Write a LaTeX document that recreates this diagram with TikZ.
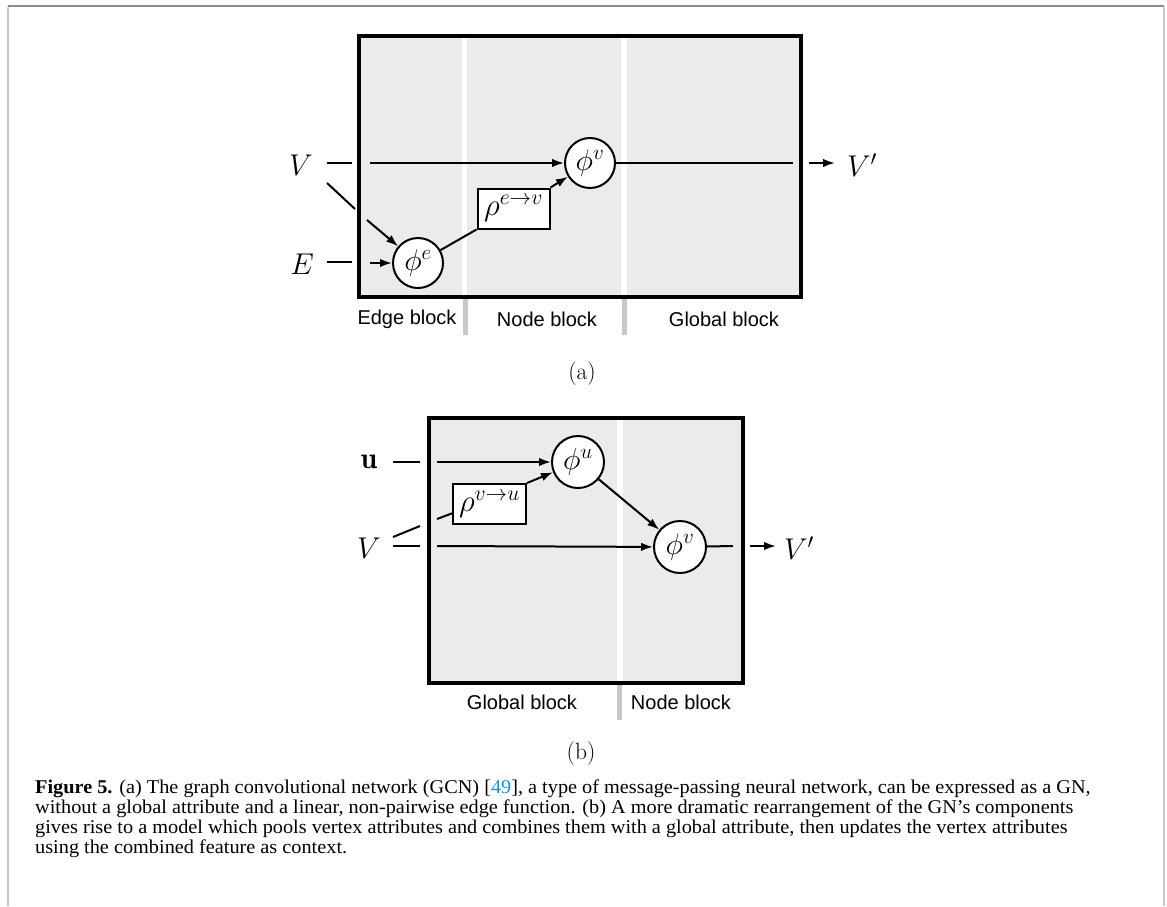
\RequirePackage{fix-cm}
\documentclass[tikz,border=0pt]{standalone}
\usepackage{fontspec}
\setsansfont{Liberation Sans}
\newfontfamily\capfont[FakeStretch=1.04]{Liberation Serif}
\usetikzlibrary{arrows.meta}
\definecolor{panel}{HTML}{EBEBEB}
\definecolor{barcol}{HTML}{C8C8C8}
\definecolor{frametop}{HTML}{8C8C8C}
\definecolor{linkcol}{HTML}{1A8FD0}
\tikzset{
  mathtxt/.style={font=\fontsize{30}{36}\selectfont},
  fn/.style={circle, draw, line width=2pt, fill=white, minimum size=50pt, inner sep=0pt, mathtxt},
  agg/.style={rectangle, draw, line width=2pt, fill=white, minimum width=72pt, minimum height=40pt, inner sep=0pt, font=\fontsize{31}{36}\selectfont},
  blocklabel/.style={font=\sffamily\fontsize{20}{24}\selectfont, inner sep=0pt},
  sublabel/.style={font=\fontsize{23.5}{28}\selectfont, inner sep=0pt},
  inlabel/.style={mathtxt, inner sep=0pt},
  conn/.style={line width=2pt},
  arr/.style={conn, -{Latex[length=12pt,width=8.5pt]}},
  border/.style={draw=black, line width=3.5pt},
  capline/.style={font=\capfont\fontsize{19.5}{20}\selectfont, anchor=base west, inner sep=0pt}
}
\begin{document}
\begin{tikzpicture}[x=1pt,y=-1pt]
\useasboundingbox (0,0) rectangle (1167,906);
% page frame
\draw[frametop, line width=1.5pt] (8,6) -- (1164,6);
\draw[barcol, line width=2pt] (8,6.5) -- (8,906);
\draw[barcol, line width=2pt] (1163.5,6.5) -- (1163.5,906);

% ===== panel (a) =====
\fill[barcol] (462.5,297) rectangle (467.5,335);
\fill[barcol] (622,297) rectangle (627,335);
\fill[panel] (359,36) rectangle (801,297);
\fill[white] (461.5,36) rectangle (467,297);
\fill[white] (621,36) rectangle (627,297);
\draw[border] (359,36) rectangle (801,297);

\node[blocklabel] (lEdge) at (407,319) {Edge block};
\node[blocklabel] (lNode) at (547,319) {Node block};
\node[blocklabel] (lGlob) at (724,319) {Global block};

\node[inlabel] (aV) at (301,165) {$V$};
\node[inlabel] (aE) at (302,264) {$E$};
\node[inlabel] (aVp) at (862,165) {$V'$};

\node[fn] (aphiv) at (590,163) {$\phi^v$};
\node[fn] (aphie) at (418,263) {$\phi^e$};
\node[agg] (arho) at (513.5,208.5) {$\rho^{e\to v}$};

\coordinate (aVd1) at (327,163);
\coordinate (aVd2) at (352,163);
\coordinate (aVin) at (370,163);
\coordinate (aVs1) at (327,183);
\coordinate (aVs2) at (355,209);
\coordinate (aVsin) at (367,220);
\coordinate (aEd1) at (327,262);
\coordinate (aEd2) at (352,262);
\coordinate (aEin) at (370,263);
\coordinate (aout1) at (793,163);
\coordinate (aout2) at (809,163);
\coordinate (aout3) at (835,163);

\draw[conn] (aVd1) -- (aVd2);
\draw[arr] (aVin) -- (aphiv);
\draw[conn] (aVs1) -- (aVs2);
\draw[arr] (aVsin) -- (aphie);
\draw[conn] (aEd1) -- (aEd2);
\draw[arr] (aEin) -- (aphie);
\draw[conn] (aphie) -- (arho.south west);
\draw[arr] (arho.north east) -- (aphiv);
\draw[conn] (aphiv) -- (aout1);
\draw[arr] (aout2) -- (aout3);

\node[sublabel] (capa) at (582,374) {(a)};

% ===== panel (b) =====
\fill[barcol] (617,683) rectangle (622,720);
\fill[panel] (429,418) rectangle (743,683);
\fill[white] (617,418) rectangle (622.5,683);
\draw[border] (429,418) rectangle (743,683);

\node[blocklabel] (lGlob2) at (522,702) {Global block};
\node[blocklabel] (lNode2) at (681,702) {Node block};

\node[inlabel] (bu) at (369,462) {$\mathbf{u}$};
\node[inlabel] (bV) at (369,548) {$V$};
\node[inlabel] (bVp) at (799,548) {$V'$};

\node[fn, minimum size=52pt] (bphiu) at (578,462) {$\phi^u$};
\node[fn, minimum size=52pt] (bphiv) at (680,547) {$\phi^v$};
\node[agg, minimum width=73pt] (brho) at (489.5,504) {$\rho^{v\to u}$};

\coordinate (bud1) at (393,462);
\coordinate (bud2) at (420,462);
\coordinate (buin) at (437,462);
\coordinate (bVs1) at (393,537);
\coordinate (bVs2) at (420,526);
\coordinate (bVsin) at (437,519);
\coordinate (bVd1) at (393,546);
\coordinate (bVd2) at (420,546);
\coordinate (bVin) at (437,546);
\coordinate (bout1) at (733,546);
\coordinate (bout2) at (750,546);
\coordinate (bout3) at (776,546);

\draw[conn] (bud1) -- (bud2);
\draw[arr] (buin) -- (bphiu);
\draw[conn] (bVs1) -- (bVs2);
\draw[conn] (bVsin) -- (brho.194);
\draw[arr] (brho.north east) -- (bphiu);
\draw[conn] (bVd1) -- (bVd2);
\draw[arr] (bVin) -- (bphiv);
\draw[arr] (bphiu) -- (bphiv);
\draw[conn] (bphiv) -- (bout1);
\draw[arr] (bout2) -- (bout3);

\node[sublabel] (capb) at (581,754) {(b)};

% ===== caption =====
\node[capline] (c1) at (35,793) {\textbf{Figure 5.} (a) The graph convolutional network (GCN) [{\color{linkcol}49}], a type of message-passing neural network, can be expressed as a GN,};
\node[capline] (c2) at (35,813) {without a global attribute and a linear, non-pairwise edge function. (b) A more dramatic rearrangement of the GN’s components};
\node[capline] (c3) at (35,833) {gives rise to a model which pools vertex attributes and combines them with a global attribute, then updates the vertex attributes};
\node[capline] (c4) at (35,853) {using the combined feature as context.};
\end{tikzpicture}
\end{document}
